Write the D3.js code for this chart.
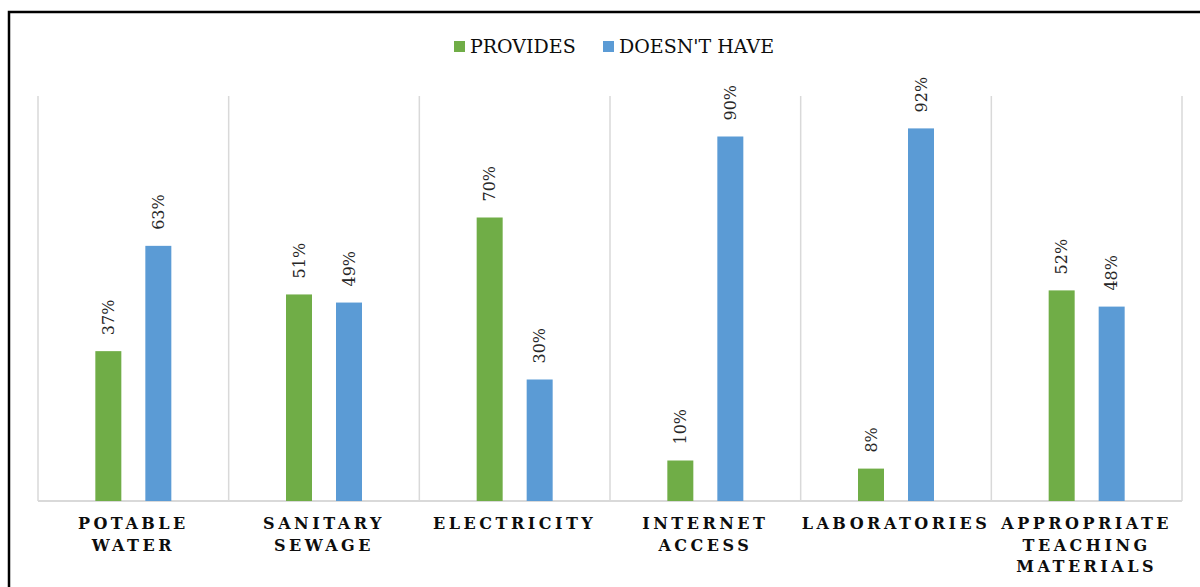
<!DOCTYPE html>
<html lang="en">
<head>
    <meta charset="UTF-8">
    <title>School Infrastructure</title>
    <script src="https://cdnjs.cloudflare.com/ajax/libs/d3/7.8.5/d3.min.js"></script>
    <style>
        body { margin: 0; background: #fff; overflow: hidden; }
        #chart { width: 1200px; height: 587px; }
        .legend-text { font-family: 'DejaVu Serif', serif; font-size: 19px; fill: #0d0d0d; }
        .value-label { font-family: 'DejaVu Serif', serif; font-size: 16px; fill: #262626; }
        .cat-label { font-family: 'DejaVu Serif', serif; font-size: 16px; font-weight: bold; fill: #0d0d0d; letter-spacing: 3.5px; }
    </style>
</head>
<body>
    <div id="chart"></div>
    <script>
        const categories = ['POTABLE WATER', 'SANITARY SEWAGE', 'ELECTRICITY', 'INTERNET ACCESS', 'LABORATORIES', 'APPROPRIATE TEACHING MATERIALS'];
        const seriesNames = ['PROVIDES', "DOESN'T HAVE"];
        const provides = [0.37, 0.51, 0.70, 0.10, 0.08, 0.52];
        const doesntHave = [0.63, 0.49, 0.30, 0.90, 0.92, 0.48];
        const colors = ['#70AD47', '#5B9BD5'];

        const W = 1200, H = 587;
        const plot = { left: 38, right: 1182, top: 96, bottom: 501 };

        const svg = d3.select('#chart').append('svg')
            .attr('width', W)
            .attr('height', H);

        // outer frame (cut off at right/bottom like the source)
        svg.append('rect')
            .attr('x', 9).attr('y', 12)
            .attr('width', 1300).attr('height', 1000)
            .attr('fill', 'none')
            .attr('stroke', '#000')
            .attr('stroke-width', 2.5);

        const x0 = d3.scaleBand()
            .domain(categories)
            .range([plot.left, plot.right])
            .padding(0);

        const x1 = d3.scaleBand()
            .domain(seriesNames)
            .range([x0.bandwidth() / 2 - 50, x0.bandwidth() / 2 + 50])
            .paddingInner(0.48)
            .paddingOuter(0.24);

        const y = d3.scaleLinear()
            .domain([0, 1])
            .range([plot.bottom, plot.top]);

        // vertical separators
        const edges = categories.map(c => x0(c)).concat([plot.right]);
        svg.append('g').selectAll('line')
            .data(edges)
            .enter().append('line')
            .attr('x1', d => d).attr('x2', d => d)
            .attr('y1', plot.top).attr('y2', plot.bottom)
            .attr('stroke', '#d9d9d9')
            .attr('stroke-width', 1.5);

        // baseline
        svg.append('line')
            .attr('x1', plot.left).attr('x2', plot.right)
            .attr('y1', y(0)).attr('y2', y(0))
            .attr('stroke', '#d9d9d9')
            .attr('stroke-width', 2);

        const rows = categories.map((c, i) => ({
            cat: c,
            vals: [provides[i], doesntHave[i]].map((v, j) => ({ s: seriesNames[j], v: v, color: colors[j] }))
        }));

        const groups = svg.append('g').selectAll('g')
            .data(rows)
            .enter().append('g')
            .attr('transform', d => `translate(${x0(d.cat)},0)`);

        groups.selectAll('rect')
            .data(d => d.vals)
            .enter().append('rect')
            .attr('x', d => x1(d.s))
            .attr('width', x1.bandwidth())
            .attr('y', d => y(d.v))
            .attr('height', d => y(0) - y(d.v))
            .attr('fill', d => d.color);

        groups.selectAll('text.value-label')
            .data(d => d.vals)
            .enter().append('text')
            .attr('class', 'value-label')
            .attr('transform', d => `translate(${x1(d.s) + x1.bandwidth() / 2},${y(d.v) - 16}) rotate(-90)`)
            .attr('dy', '0.35em')
            .attr('text-anchor', 'start')
            .text(d => Math.round(d.v * 100) + '%');

        // category labels, one word per line
        groups.append('text')
            .attr('class', 'cat-label')
            .attr('text-anchor', 'middle')
            .each(function(d) {
                const t = d3.select(this);
                d.cat.split(' ').forEach((w, i) => {
                    t.append('tspan')
                        .attr('x', x0.bandwidth() / 2)
                        .attr('y', 529 + i * 21.5)
                        .text(w);
                });
            });

        // legend
        const legend = svg.append('g');
        const legendX = [454, 603];
        seriesNames.forEach((s, i) => {
            legend.append('rect')
                .attr('x', legendX[i]).attr('y', 41)
                .attr('width', 11).attr('height', 11)
                .attr('fill', colors[i]);
            legend.append('text')
                .attr('class', 'legend-text')
                .attr('x', legendX[i] + 16)
                .attr('y', 53)
                .text(s);
        });
    </script>
</body>
</html>
